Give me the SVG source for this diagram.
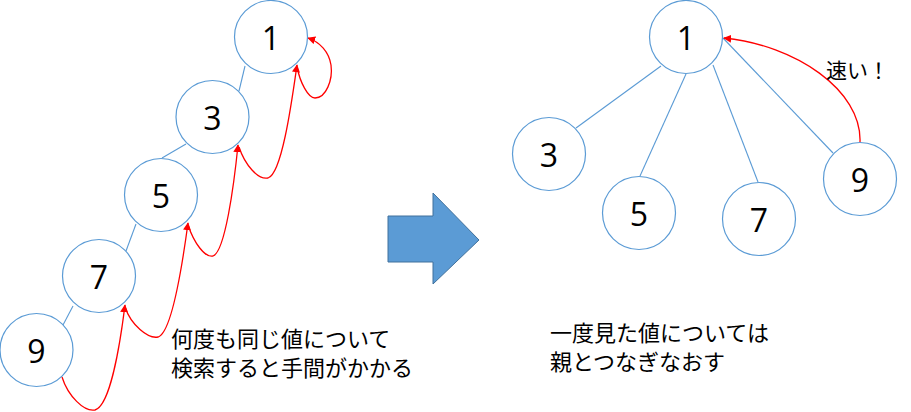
<svg xmlns="http://www.w3.org/2000/svg" width="911" height="412" viewBox="0 0 911 412">
<style>
.n circle{fill:#fff;stroke:#5B9BD5;stroke-width:1.2}
.n text{font-family:"Open Sans","Liberation Sans",sans-serif;font-size:32px;text-anchor:middle;fill:#000}
.e{stroke:#5B9BD5;stroke-width:1.1;fill:none}
.r{stroke:#FF0000;stroke-width:1.3;fill:none;marker-end:url(#ah)}
.t{font-family:"Noto Sans CJK JP","Noto Sans",sans-serif;font-size:22px;fill:#000}
</style>
<defs>
<marker id="ah" viewBox="0 0 10 10" refX="9" refY="5" markerWidth="8" markerHeight="8" markerUnits="userSpaceOnUse" orient="auto">
<path d="M0,0 L10,5 L0,10 z" fill="#FF0000"/>
</marker>
</defs>
<g id="connectors">
<line class="e" x1="245" y1="66" x2="239" y2="91"/>
<line class="e" x1="186" y1="144" x2="162" y2="158"/>
<line class="e" x1="136" y1="224" x2="126" y2="251"/>
<line class="e" x1="73" y1="306" x2="63" y2="325"/>
<line class="e" x1="661" y1="66" x2="576" y2="128"/>
<line class="e" x1="686" y1="74" x2="640" y2="176"/>
<line class="e" x1="713" y1="65" x2="758" y2="182"/>
<line class="e" x1="723" y1="38" x2="833" y2="153"/>
<path class="r" d="M62,377 C68,396 84,412 95,410 C110,406 120,345 125,305"/>
<path class="r" d="M125,307 C131,325 148,339 158,337 C172,333 183,260 188,223"/>
<path class="r" d="M188,225 C194,243 205,258 213,256 C225,252 234,185 238,145"/>
<path class="r" d="M239,147 C245,165 258,180 268,178 C282,174 292,100 297,65"/>
<path class="r" d="M297,67 C300,82 308,98 315,98 C326,98 333,80 331,65 C329,52 320,42 308,38"/>
<path class="r" d="M860,142 C862,90 795,45 724,38"/>
</g>
<g id="n1L" class="n"><circle cx="271" cy="37" r="36.5"/><text x="271" y="50">1</text></g>
<g id="n3L" class="n"><circle cx="212.5" cy="117" r="36.5"/><text x="212.5" y="130">3</text></g>
<g id="n5L" class="n"><circle cx="161" cy="195" r="36.5"/><text x="161" y="208">5</text></g>
<g id="n7L" class="n"><circle cx="99" cy="276" r="36.5"/><text x="99" y="289">7</text></g>
<g id="n9L" class="n"><circle cx="36.5" cy="350" r="36.5"/><text x="36.5" y="363">9</text></g>
<g id="n1R" class="n"><circle cx="686" cy="37" r="36.5"/><text x="686" y="50">1</text></g>
<g id="n3R" class="n"><circle cx="549" cy="154" r="36.5"/><text x="549" y="167">3</text></g>
<g id="n5R" class="n"><circle cx="639" cy="213" r="36.5"/><text x="639" y="226">5</text></g>
<g id="n7R" class="n"><circle cx="759" cy="219" r="36.5"/><text x="759" y="232">7</text></g>
<g id="n9R" class="n"><circle cx="860" cy="179" r="36.5"/><text x="860" y="192">9</text></g>
<g id="bigArrow"><path d="M388,216 L433,216 L433,193 L479,240 L433,284 L433,262 L388,262 z" fill="#5B9BD5" stroke="#41719C" stroke-width="1"/></g>
<text class="t" x="826" y="78" style="font-size:21px">速い！</text>
<text class="t" x="171" y="347">何度も同じ値について</text>
<text class="t" x="171" y="376">検索すると手間がかかる</text>
<text class="t" x="550" y="341">一度見た値については</text>
<text class="t" x="550" y="370">親とつなぎなおす</text>
</svg>
